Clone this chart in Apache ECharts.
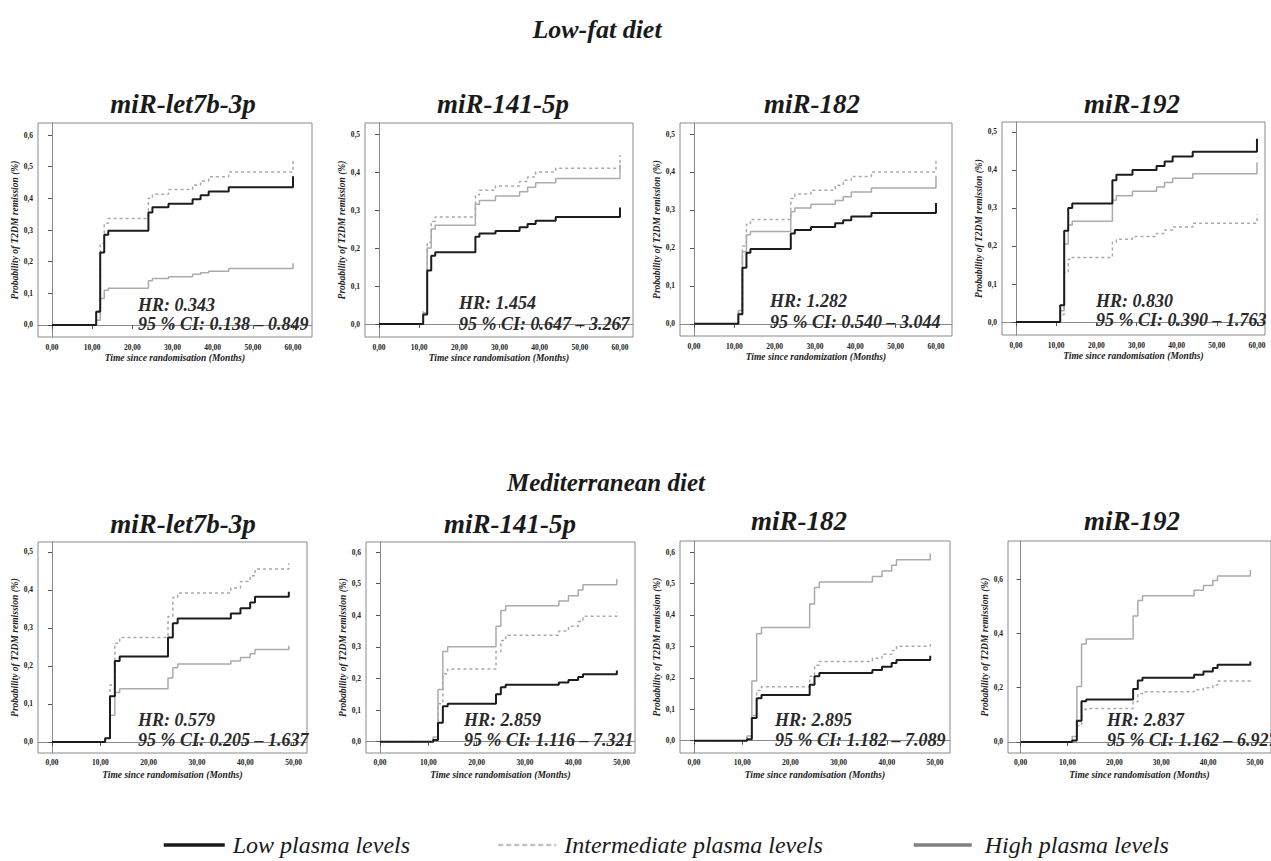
<!DOCTYPE html>
<html><head><meta charset="utf-8">
<script src="https://cdn.jsdelivr.net/npm/echarts@6/dist/echarts.min.js"></script>
<style>html,body{margin:0;padding:0;background:#fff}#c{width:1271px;height:861px}</style>
</head><body><div id="c"></div>
<script>
// ---------- DATA ----------
const dietTitles = ['Low-fat diet', 'Mediterranean diet'];
const panelTitles = ['miR-let7b-3p', 'miR-141-5p', 'miR-182', 'miR-192', 'miR-let7b-3p', 'miR-141-5p', 'miR-182', 'miR-192'];
const seriesNames = ['Low plasma levels', 'Intermediate plasma levels', 'High plasma levels'];
const hrLabels = ['HR: 0.343', 'HR: 1.454', 'HR: 1.282', 'HR: 0.830', 'HR: 0.579', 'HR: 2.859', 'HR: 2.895', 'HR: 2.837'];
const ciLabels = ['95 % CI: 0.138 – 0.849', '95 % CI: 0.647 – 3.267', '95 % CI: 0.540 – 3.044', '95 % CI: 0.390 – 1.763',
                  '95 % CI: 0.205 – 1.637', '95 % CI: 1.116 – 7.321', '95 % CI: 1.182 – 7.089', '95 % CI: 1.162 – 6.927'];
const xAxisTitles = ['Time since randomisation (Months)', 'Time since randomisation (Months)', 'Time since randomization (Months)', 'Time since randomisation (Months)',
                     'Time since randomisation (Months)', 'Time since randomisation (Months)', 'Time since randomisation (Months)', 'Time since randomisation (Months)'];
const yAxisTitle = 'Probability of T2DM remission (%)';

// event times (months); last repeated point = censoring tick at end of follow-up
const timesLowFat = [0, 11, 12, 13, 14, 24, 25, 29, 35, 37, 39, 44, 60, 60];
const timesMed    = [0, 11, 12, 13, 14, 24, 25, 26, 37, 39, 41, 42, 49, 49];

// Low-fat diet
const lfLet7bLow  = [0, 0.042, 0.229, 0.285, 0.298, 0.355, 0.372, 0.383, 0.397, 0.410, 0.422, 0.435, 0.435, 0.470];
const lfLet7bInt  = [0, 0.045, 0.258, 0.321, 0.336, 0.400, 0.413, 0.428, 0.442, 0.455, 0.468, 0.483, 0.483, 0.519];
const lfLet7bHigh = [0, 0.015, 0.084, 0.110, 0.116, 0.140, 0.147, 0.152, 0.160, 0.165, 0.170, 0.178, 0.178, 0.195];
const lf141Low    = [0, 0.025, 0.141, 0.180, 0.189, 0.230, 0.238, 0.245, 0.255, 0.263, 0.272, 0.282, 0.282, 0.307];
const lf141Int    = [0, 0.035, 0.215, 0.270, 0.282, 0.340, 0.352, 0.363, 0.375, 0.387, 0.400, 0.410, 0.410, 0.445];
const lf141High   = [0, 0.030, 0.200, 0.250, 0.260, 0.315, 0.325, 0.337, 0.348, 0.360, 0.372, 0.383, 0.383, 0.420];
const lf182Low    = [0, 0.025, 0.148, 0.187, 0.197, 0.238, 0.247, 0.255, 0.265, 0.273, 0.283, 0.292, 0.292, 0.318];
const lf182Int    = [0, 0.030, 0.205, 0.262, 0.275, 0.330, 0.342, 0.352, 0.365, 0.378, 0.388, 0.400, 0.400, 0.432];
const lf182High   = [0, 0.035, 0.190, 0.235, 0.243, 0.295, 0.305, 0.315, 0.325, 0.335, 0.347, 0.358, 0.358, 0.390];
const lf192Low    = [0, 0.044, 0.240, 0.300, 0.312, 0.373, 0.387, 0.400, 0.410, 0.422, 0.435, 0.448, 0.448, 0.482];
const lf192Int    = [0, 0.020, 0.130, 0.165, 0.170, 0.210, 0.218, 0.225, 0.233, 0.242, 0.250, 0.260, 0.260, 0.283];
const lf192High   = [0, 0.030, 0.205, 0.255, 0.265, 0.320, 0.332, 0.344, 0.355, 0.367, 0.378, 0.390, 0.390, 0.420];

// Mediterranean diet
const mdLet7bLow  = [0, 0.010, 0.120, 0.213, 0.225, 0.275, 0.312, 0.325, 0.338, 0.352, 0.367, 0.382, 0.382, 0.395];
const mdLet7bInt  = [0, 0.010, 0.150, 0.260, 0.275, 0.330, 0.380, 0.392, 0.405, 0.422, 0.437, 0.455, 0.455, 0.470];
const mdLet7bHigh = [0, 0.010, 0.070, 0.130, 0.140, 0.168, 0.195, 0.205, 0.213, 0.222, 0.232, 0.243, 0.243, 0.253];
const md141Low    = [0, 0.005, 0.060, 0.112, 0.120, 0.150, 0.172, 0.180, 0.187, 0.195, 0.205, 0.213, 0.213, 0.225];
const md141Int    = [0, 0.010, 0.120, 0.215, 0.230, 0.285, 0.320, 0.337, 0.350, 0.365, 0.380, 0.397, 0.397, 0.410];
const md141High   = [0, 0.015, 0.165, 0.285, 0.300, 0.365, 0.415, 0.430, 0.445, 0.462, 0.480, 0.497, 0.497, 0.515];
const md182Low    = [0, 0.005, 0.072, 0.135, 0.145, 0.178, 0.205, 0.215, 0.225, 0.235, 0.247, 0.257, 0.257, 0.270];
const md182Int    = [0, 0.010, 0.080, 0.160, 0.172, 0.205, 0.240, 0.252, 0.262, 0.275, 0.287, 0.300, 0.300, 0.310];
const md182High   = [0, 0.015, 0.190, 0.340, 0.360, 0.435, 0.487, 0.505, 0.522, 0.540, 0.558, 0.575, 0.575, 0.595];
const md192Low    = [0, 0.005, 0.078, 0.150, 0.157, 0.195, 0.227, 0.237, 0.248, 0.260, 0.273, 0.285, 0.285, 0.297];
const md192Int    = [0, 0.005, 0.060, 0.120, 0.123, 0.148, 0.178, 0.185, 0.193, 0.200, 0.210, 0.225, 0.225, 0.232];
const md192High   = [0, 0.020, 0.205, 0.362, 0.380, 0.465, 0.522, 0.540, 0.560, 0.578, 0.596, 0.613, 0.613, 0.635];

// tick values
const xTicksLowFat = [0, 10, 20, 30, 40, 50, 60];
const xTicksMed    = [0, 10, 20, 30, 40, 50];
const yTicks05     = [0, 0.1, 0.2, 0.3, 0.4, 0.5];
const yTicks06     = [0, 0.1, 0.2, 0.3, 0.4, 0.5, 0.6];
const yTicks06by2  = [0, 0.2, 0.4, 0.6];

// ---------- LAYOUT ----------
const panelData = [
  [timesLowFat, lfLet7bLow, lfLet7bInt, lfLet7bHigh, xTicksLowFat, yTicks06],
  [timesLowFat, lf141Low, lf141Int, lf141High, xTicksLowFat, yTicks05],
  [timesLowFat, lf182Low, lf182Int, lf182High, xTicksLowFat, yTicks05],
  [timesLowFat, lf192Low, lf192Int, lf192High, xTicksLowFat, yTicks05],
  [timesMed, mdLet7bLow, mdLet7bInt, mdLet7bHigh, xTicksMed, yTicks05],
  [timesMed, md141Low, md141Int, md141High, xTicksMed, yTicks06],
  [timesMed, md182Low, md182Int, md182High, xTicksMed, yTicks06],
  [timesMed, md192Low, md192Int, md192High, xTicksMed, yTicks06by2]
];
const layout = [
  {g:[38,123,274,214],  x:[-3.49,64.73], y:[-0.038,0.638], t:[183,104], hr:[138,305,324], xg:16, lm:6},
  {g:[365,123,268,214], x:[-3.49,63.24], y:[-0.034,0.529], t:[503,104], hr:[459,303,324], xg:16, lm:6},
  {g:[680,123,272,213], x:[-3.47,63.97], y:[-0.032,0.529], t:[812,104], hr:[770,301,322], xg:16, lm:6},
  {g:[1002,122,263,213],x:[-3.49,62.0],  y:[-0.034,0.526], t:[1132,104],hr:[1096,301,320], xg:16, lm:6},
  {g:[38,542,269,211],  x:[-2.9,52.76],  y:[-0.029,0.526], t:[183,524], hr:[138,720,740], xg:17, lm:5},
  {g:[366,542,269,211], x:[-2.9,52.76],  y:[-0.036,0.632], t:[510,524], hr:[464,720,740], xg:17, lm:5},
  {g:[680,541,270,212], x:[-2.9,53.1],   y:[-0.039,0.635], t:[799,521], hr:[775,720,740], xg:17, lm:5},
  {g:[1008,541,272,212],x:[-2.68,53.4],  y:[-0.041,0.742], t:[1132,521],hr:[1107,720,740], xg:17, lm:5}
];

const SERIF = "'Liberation Serif', 'Times New Roman', serif";
const lineStyles = [
  {color:'#1c1c1c', width:2, type:'solid'},
  {color:'#a9a9a9', width:1.5, type:[3,3]},
  {color:'#ababab', width:1.5, type:'solid'}
];
const fmtX = v => v.toFixed(2).replace('.', ',');
const fmtY = v => v.toFixed(1).replace('.', ',');

const grids = [], xAxes = [], yAxes = [], series = [], graphics = [];
layout.forEach((L, p) => {
  const [times, low, mid, high, xt, yt] = panelData[p];
  grids.push({left:L.g[0], top:L.g[1], width:L.g[2], height:L.g[3], show:true, borderColor:'#8a8a8a', borderWidth:1, backgroundColor:'#fff'});
  xAxes.push({
    type:'value', gridIndex:p, min:L.x[0], max:L.x[1],
    axisLine:{show:true, lineStyle:{color:'#8a8a8a'}},
    axisTick:{show:true, length:4, customValues:xt, lineStyle:{color:'#555'}},
    axisLabel:{customValues:xt, formatter:fmtX, margin:L.lm, fontFamily:SERIF, fontWeight:'bold', fontSize:7.5, color:'#222'},
    splitLine:{show:false},
    name:xAxisTitles[p], nameLocation:'middle', nameGap:L.xg,
    nameTextStyle:{fontFamily:SERIF, fontWeight:'bold', fontStyle:'italic', fontSize:9.5, color:'#222'}
  });
  yAxes.push({
    type:'value', gridIndex:p, min:L.y[0], max:L.y[1],
    axisLine:{show:true, lineStyle:{color:'#8a8a8a'}},
    axisTick:{show:true, length:4, customValues:yt, lineStyle:{color:'#555'}},
    axisLabel:{customValues:yt, formatter:fmtY, margin:5, fontFamily:SERIF, fontWeight:'bold', fontSize:7.5, color:'#222'},
    splitLine:{show:false},
    name:yAxisTitle, nameLocation:'middle', nameGap:17,
    nameTextStyle:{fontFamily:SERIF, fontWeight:'bold', fontStyle:'italic', fontSize:9.5, color:'#222'}
  });
  [[2, high], [1, mid], [0, low]].forEach(([k, vals]) => {
    series.push({
      type:'line', name:seriesNames[k], xAxisIndex:p, yAxisIndex:p,
      step:'end', symbol:'none', silent:true, animation:false,
      lineStyle:lineStyles[k], itemStyle:{color:lineStyles[k].color},
      data: times.map((t, i) => [t, vals[i]])
    });
  });
  graphics.push({type:'text', x:L.t[0], y:L.t[1], style:{text:panelTitles[p], fontFamily:SERIF, fontStyle:'italic', fontWeight:'bold', fontSize:27, fill:'#1a1a1a', align:'center', verticalAlign:'middle'}});
  graphics.push({type:'text', x:L.hr[0], y:L.hr[1], z:100, style:{text:hrLabels[p], fontFamily:SERIF, fontStyle:'italic', fontWeight:'bold', fontSize:18, fill:'#2a2a2a', align:'left', verticalAlign:'middle'}});
  graphics.push({type:'text', x:L.hr[0], y:L.hr[2], z:100, style:{text:ciLabels[p], fontFamily:SERIF, fontStyle:'italic', fontWeight:'bold', fontSize:18, fill:'#2a2a2a', align:'left', verticalAlign:'middle'}});
});
graphics.push({type:'text', x:597, y:29, style:{text:dietTitles[0], fontFamily:SERIF, fontStyle:'italic', fontWeight:'bold', fontSize:26, fill:'#1a1a1a', align:'center', verticalAlign:'middle'}});
graphics.push({type:'text', x:606, y:482, style:{text:dietTitles[1], fontFamily:SERIF, fontStyle:'italic', fontWeight:'bold', fontSize:25, fill:'#1a1a1a', align:'center', verticalAlign:'middle'}});

const legendPos = [
  {left:162, w:61, pad:3, ls:{color:'#1a1a1a', width:3.5, type:'solid'}},
  {left:497, w:58, pad:3, ls:{color:'#c4c4c4', width:2.5, type:[5,3]}},
  {left:912, w:58, pad:8, ls:{color:'#808080', width:3.5, type:'solid'}}
];
const legends = legendPos.map((lp, i) => ({
  data:[seriesNames[i]], left:lp.left, top:833, orient:'horizontal', padding:0,
  itemWidth:lp.w, itemHeight:24, selectedMode:false,
  lineStyle:lp.ls, itemStyle:{opacity:0},
  textStyle:{fontFamily:SERIF, fontStyle:'italic', fontSize:24, color:'#1a1a1a', padding:[0,0,0,lp.pad]}
}));

const chart = echarts.init(document.getElementById('c'), null, {renderer:'svg', width:1271, height:861});
chart.setOption({
  animation:false,
  backgroundColor:'#fff',
  grid:grids, xAxis:xAxes, yAxis:yAxes, series:series,
  legend:legends, graphic:graphics
});
</script></body></html>
